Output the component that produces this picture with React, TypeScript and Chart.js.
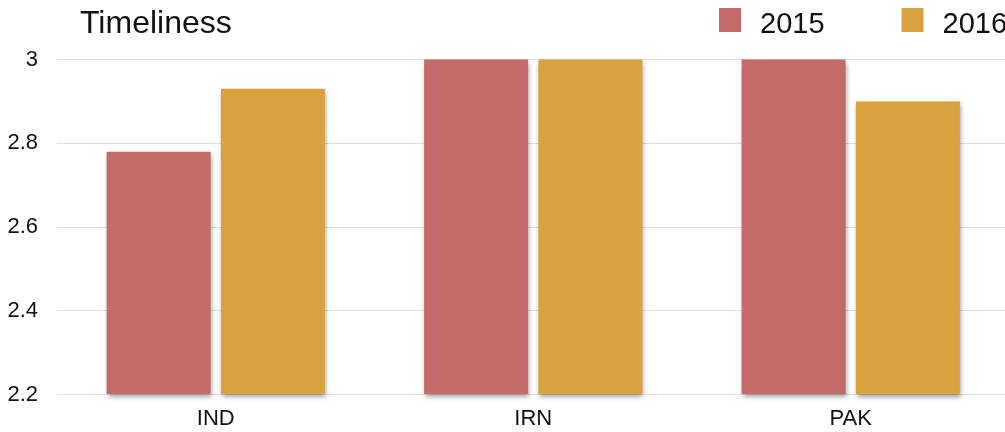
import React, { useEffect, useRef } from "react";
import { Chart, registerables } from "chart.js";

Chart.register(...registerables);

const categories = ["IND", "IRN", "PAK"];
const seriesLabels = ["2015", "2016"];
const values2015 = [2.78, 3, 3];
const values2016 = [2.93, 3, 2.9];
const yTicks = [2.2, 2.4, 2.6, 2.8, 3];
const titleText = "Timeliness";
const seriesColors = ["#c46a68", "#d9a23e"];

const FONT = '"Liberation Sans", Arial, Helvetica, sans-serif';

const shadowPlugin = {
  id: "barShadow",
  beforeDatasetsDraw(chart: any) {
    const ctx = chart.ctx;
    ctx.save();
    ctx.shadowColor = "rgba(0,0,0,0.4)";
    ctx.shadowBlur = 5;
    ctx.shadowOffsetX = 1;
    ctx.shadowOffsetY = 3;
  },
  afterDatasetsDraw(chart: any) {
    chart.ctx.restore();
  },
};

const headerPlugin = {
  id: "header",
  afterDraw(chart: any) {
    const ctx = chart.ctx;
    ctx.save();
    ctx.fillStyle = "#111";
    ctx.textBaseline = "alphabetic";
    ctx.textAlign = "left";
    ctx.font = `32px ${FONT}`;
    ctx.fillText(titleText, 80, 33);

    ctx.font = `29px ${FONT}`;
    let x = 719;
    chart.data.datasets.forEach((ds: any) => {
      ctx.fillStyle = ds.backgroundColor;
      ctx.fillRect(x, 8, 22, 24);
      ctx.fillStyle = "#111";
      ctx.fillText(ds.label, x + 41, 32.5);
      x += 41 + ctx.measureText(ds.label).width + 77;
    });
    ctx.restore();
  },
};

export default function App() {
  const ref = useRef<HTMLCanvasElement | null>(null);

  useEffect(() => {
    if (!ref.current) return;
    const chart = new Chart(ref.current, {
      type: "bar",
      data: {
        labels: categories,
        datasets: [
          {
            label: seriesLabels[0],
            data: values2015,
            backgroundColor: seriesColors[0],
            base: yTicks[0],
            clip: false,
          },
          {
            label: seriesLabels[1],
            data: values2016,
            backgroundColor: seriesColors[1],
            base: yTicks[0],
            clip: false,
          },
        ],
      },
      options: {
        animation: false,
        responsive: true,
        maintainAspectRatio: false,
        layout: { padding: { top: 59.5, left: 0, right: 2.5, bottom: 0 } },
        datasets: {
          bar: { categoryPercentage: 0.72, barPercentage: 0.91 },
        },
        plugins: {
          legend: { display: false },
          title: { display: false },
          tooltip: { enabled: false },
        },
        scales: {
          x: {
            grid: { display: false },
            border: { display: false },
            ticks: { color: "#111", font: { family: FONT, size: 22 }, padding: 3 },
            afterFit: (scale: any) => {
              scale.height = 37.5;
            },
          },
          y: {
            min: yTicks[0],
            max: yTicks[yTicks.length - 1],
            grid: { color: "#e0e0e0", drawTicks: false, lineWidth: 1 },
            border: { display: false },
            afterBuildTicks: (scale: any) => {
              scale.ticks = yTicks.map((v) => ({ value: v }));
            },
            ticks: {
              color: "#111",
              font: { family: FONT, size: 22 },
              padding: 19,
              callback: (v: any) => String(Number(Number(v).toFixed(1))),
            },
            afterFit: (scale: any) => {
              scale.width = 57;
            },
          },
        },
      },
      plugins: [shadowPlugin, headerPlugin],
    });
    return () => chart.destroy();
  }, []);

  return (
    <div
      style={{
        position: "fixed",
        left: 0,
        top: 0,
        width: 1005,
        height: 432,
        overflow: "hidden",
        background: "#fff",
      }}
    >
      <div style={{ position: "relative", width: 1012, height: 432 }}>
        <canvas ref={ref} />
      </div>
    </div>
  );
}
